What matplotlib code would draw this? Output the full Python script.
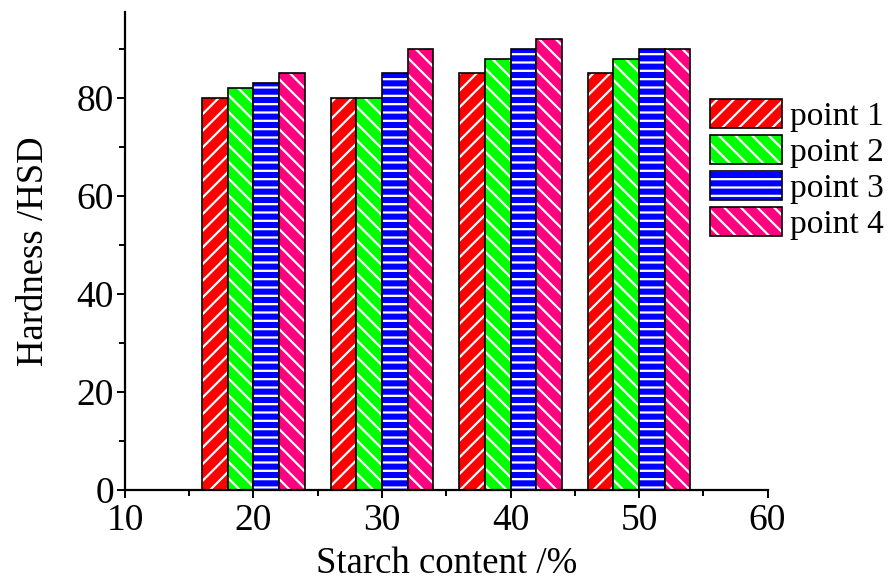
import matplotlib
matplotlib.use("Agg")
import matplotlib.pyplot as plt
import numpy as np
from matplotlib.ticker import MultipleLocator

plt.rcParams['font.family'] = ['Liberation Serif', 'DejaVu Serif']
plt.rcParams['hatch.linewidth'] = 1.6

starch = [20, 30, 40, 50]
series_names = ['point 1', 'point 2', 'point 3', 'point 4']
point1 = [80, 80, 85, 85]
point2 = [82, 80, 88, 88]
point3 = [83, 85, 90, 90]
point4 = [85, 90, 92, 90]
series = [point1, point2, point3, point4]
colors = ['#FF0000', '#00FF00', '#0000FF', '#FF0080']
hatches = ['//', '\\\\', '--', '\\\\']
offsets = [-3, -1, 1, 3]
bar_w = 2.0

fig = plt.figure(figsize=(8.9, 5.8), dpi=100)
ax = fig.add_axes([0.1404, 0.155, 0.722, 0.824])

handles = []
x = np.array(starch, dtype=float)
for vals, c, h, off, name in zip(series, colors, hatches, offsets, series_names):
    bars = ax.bar(x + off, vals, width=bar_w, color=c, edgecolor='black',
                  linewidth=1.2, hatch=h, label=name, zorder=2)
    for p in bars:
        p._hatch_color = (1, 1, 1, 1)
        p.stale = True
    handles.append(bars)

ax.set_xlim(10, 60)
ax.set_ylim(0, 97.5)
ax.xaxis.set_major_locator(MultipleLocator(10))
ax.xaxis.set_minor_locator(MultipleLocator(5))
ax.yaxis.set_major_locator(MultipleLocator(20))
ax.yaxis.set_minor_locator(MultipleLocator(10))
for s in ['top', 'right']:
    ax.spines[s].set_visible(False)
for s in ['left', 'bottom']:
    ax.spines[s].set_linewidth(1.6)
ax.tick_params(which='major', direction='out', length=6, width=1.4, labelsize=27)
ax.tick_params(axis='y', which='major', pad=2)
ax.tick_params(axis='x', which='major', pad=4)
ax.tick_params(which='minor', direction='out', length=4, width=1.4)

ax.set_xlabel('Starch content /%', fontsize=26.5, labelpad=6)
ax.set_ylabel('Hardness /HSD', fontsize=26.5, labelpad=18)

leg = fig.legend(handles=handles, labels=series_names, loc='upper left',
                 bbox_to_anchor=(0.798, 0.83), frameon=False, fontsize=24,
                 handlelength=2.15, handleheight=1.0, labelspacing=0.08,
                 handletextpad=0.25, borderaxespad=0, borderpad=0)
for p in leg.get_patches():
    p._hatch_color = (1, 1, 1, 1)
    p.stale = True

fig.savefig('out.png', dpi=100)
